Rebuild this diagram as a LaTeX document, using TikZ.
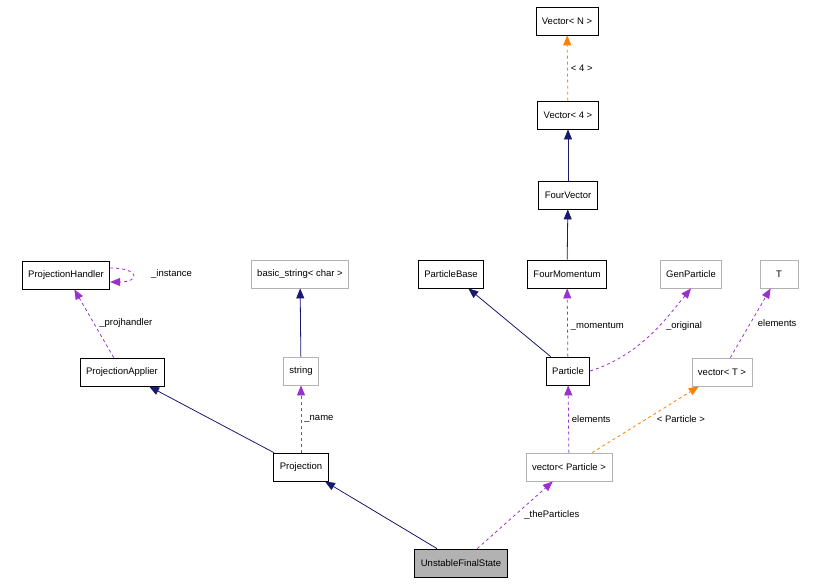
\documentclass[tikz,border=0pt]{standalone}
\usepackage{fontspec}
\setmainfont{Liberation Sans}
\usetikzlibrary{arrows.meta}
\begin{document}
\begin{tikzpicture}[x=1pt,y=-1pt,
    cls/.style={draw, line width=0.8pt, minimum height=28pt, inner xsep=6pt, font=\fontsize{9.5}{11}\selectfont},
    ext/.style={cls, draw=gray!60},
    inh/.style={draw={rgb,255:red,25;green,25;blue,112}, line width=0.8pt, -{Triangle[length=10pt,width=8pt]}},
    use/.style={draw={rgb,255:red,153;green,50;blue,204}, dashed, line width=0.8pt, -{Triangle[length=10pt,width=8pt]}},
    tmpl/.style={draw=orange, dashed, line width=0.8pt, -{Triangle[length=10pt,width=8pt]}},
    lbl/.style={font=\fontsize{9.5}{11}\selectfont, inner sep=1pt}]
    \useasboundingbox (0,0) rectangle (819,584);
    % nodes
    \node[cls] (vecN) at (567,21) {Vector< N >};
    \node[cls] (vec4) at (568,115) {Vector< 4 >};
    \node[cls] (fvec) at (568,195) {FourVector};
    \node[cls] (pbase) at (451,274) {ParticleBase};
    \node[cls] (fmom) at (567,274) {FourMomentum};
    \node[ext] (genp) at (691,274) {GenParticle};
    \node[ext, minimum width=38pt] (tt) at (779,274) {T};
    \node[cls] (phand) at (66,275) {ProjectionHandler};
    \node[ext] (bstr) at (300,274) {basic\_string< char >};
    \node[cls] (papp) at (122,372) {ProjectionApplier};
    \node[ext] (str) at (301,371) {string};
    \node[cls] (part) at (568,371) {Particle};
    \node[ext] (vecT) at (722,372) {vector< T >};
    \node[cls] (proj) at (301,467) {Projection};
    \node[ext] (vecP) at (569,467) {vector< Particle >};
    \node[cls, fill=gray!60] (ufs) at (461,563) {UnstableFinalState};
    % connectors
    \draw[tmpl] (vec4) -- node[lbl, right=2pt]{< 4 >} (vecN);
    \draw[inh] (fvec) -- (vec4);
    \draw[inh] (fmom) -- (fvec);
    \draw[inh] (part) -- (pbase);
    \draw[use] (part) -- node[lbl, right=2pt, pos=0.45]{\_momentum} (fmom);
    \draw[use] (part.east) .. controls (640,355) and (665,320) .. node[lbl, right=6pt, pos=0.6]{\_original} (genp.south);
    \draw[use] (vecT) -- node[lbl, right=6pt]{elements} (tt);
    \draw[use] ([yshift=7]phand.east) .. controls +(30,0) and +(30,0) .. ([yshift=-7]phand.east);
    \node[lbl, anchor=west] at (150,274) {\_instance};
    \draw[use] (papp) -- node[lbl, right=4pt]{\_projhandler} (phand);
    \draw[inh] (str) -- (bstr);
    \draw[inh] (proj) -- (papp);
    \draw[use] (proj) -- node[lbl, right=2pt]{\_name} (str);
    \draw[use] (vecP) -- node[lbl, right=2pt]{elements} (part);
    \draw[tmpl] (vecP) -- node[lbl, right=10pt]{< Particle >} (vecT);
    \draw[inh] (ufs) -- (proj);
    \draw[use] (ufs) -- node[lbl, right=8pt]{\_theParticles} (vecP);
\end{tikzpicture}
\end{document}
